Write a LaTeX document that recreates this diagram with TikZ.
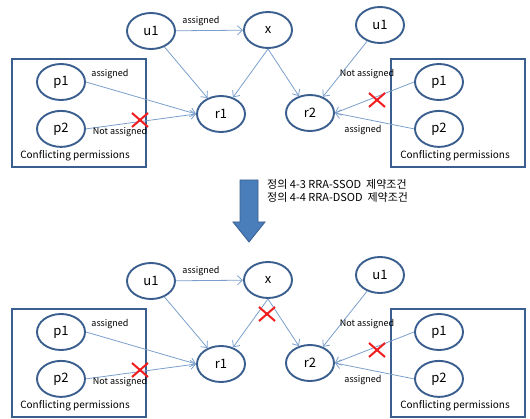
\documentclass[tikz,border=0pt]{standalone}
\usepackage{fontspec}
\setmainfont{Noto Sans CJK KR}
\usetikzlibrary{shapes.geometric, shapes.misc, arrows.meta, positioning}
\definecolor{rimblue}{HTML}{3A5F8F}
\definecolor{linkblue}{HTML}{7B9FCB}
\definecolor{arrowblue}{HTML}{4A7EBB}
\definecolor{crossred}{HTML}{F01E1E}

\begin{document}
\begin{tikzpicture}[
    x=1pt, y=-1pt,
    role/.style={
        ellipse, draw=rimblue, fill=white, line width=1.9pt,
        minimum width=48pt, minimum height=36pt, inner sep=0pt,
        font=\fontsize{13}{15}\selectfont
    },
    group/.style={rectangle, draw=rimblue, line width=1.6pt},
    link/.style={-{Straight Barb[length=5pt,width=9pt]}, linkblue, line width=0.8pt},
    tag/.style={font=\fontsize{9}{10}\selectfont, inner sep=1pt},
    caption/.style={font=\fontsize{10}{12}\selectfont, inner sep=1pt},
    nope/.style={cross out, draw=crossred, line width=2pt,
        minimum width=14pt, minimum height=12pt, inner sep=0pt},
    bigarrow/.style={fill=arrowblue, draw=rimblue, line width=0.8pt}
]
    \useasboundingbox (0,0) rectangle (530,419);

    % both diagrams, above and below the arrow
    \foreach \h/\dy in {t/0, b/250} {
    \begin{scope}[shift={(0,\dy)}]
        \node[group, minimum width=134pt, minimum height=108pt] (boxl\h) at (79,113) {};
        \node[group, minimum width=134pt, minimum height=108pt] (boxr\h) at (458,113) {};
        \node[caption] (capl\h) at (75,156) {Conflicting permissions};
        \node[caption] (capr\h) at (455,156) {Conflicting permissions};

        \node[role] (u\h) at (151,31) {u1};
        \node[role] (x\h) at (268,30) {x};
        \node[role] (v\h) at (380,25) {u1};
        \node[role] (ra\h) at (221,114) {r1};
        \node[role] (rb\h) at (310,113) {r2};
        \node[role] (pa\h) at (61,82) {p1};
        \node[role, below=9pt of pa\h] (pb\h) {p2};
        \node[role] (qa\h) at (439,82) {p1};
        \node[role, below=9pt of qa\h] (qb\h) {p2};

        \draw[link] (u\h) -- (x\h);
        \draw[link] (u\h) -- (ra\h);
        \draw[link] (x\h.south) -- (ra\h);
        \draw[link] (x\h.south) -- (rb\h);
        \draw[link] (v\h) -- (rb\h);
        \draw[link] (pa\h.east) -- (ra\h.west);
        \draw[link] (pb\h.east) -- (ra\h.west);
        \draw[link] (qa\h.west) -- (rb\h.east);
        \draw[link] (qb\h.west) -- (rb\h.east);

        \node[tag] (ux\h) at (201,21) {assigned};
        \node[tag] (pra\h) at (110,74) {assigned};
        \node[tag] (prb\h) at (120,132) {Not assigned};
        \node[tag] (qra\h) at (367,74) {Not assigned};
        \node[tag] (qrb\h) at (363,130) {assigned};

        \node[nope] (noa\h) at (140,120) {};
        \node[nope] (nob\h) at (377,100) {};
    \end{scope}
    }
    \node[nope] (nox) at (267,314) {};

    % the step between them
    \draw[bigarrow] (240,180) -- (258,180) -- (258,222) -- (265,222)
        -- (249,242) -- (233,222) -- (240,222) -- cycle;
    \node[anchor=west, align=left, inner sep=1pt, font=\fontsize{11}{12.5}\selectfont]
        (rule) at (266,191)
        {정의 4-3 RRA-SSOD \ 제약조건\\정의 4-4 RRA-DSOD \ 제약조건};
\end{tikzpicture}
\end{document}
